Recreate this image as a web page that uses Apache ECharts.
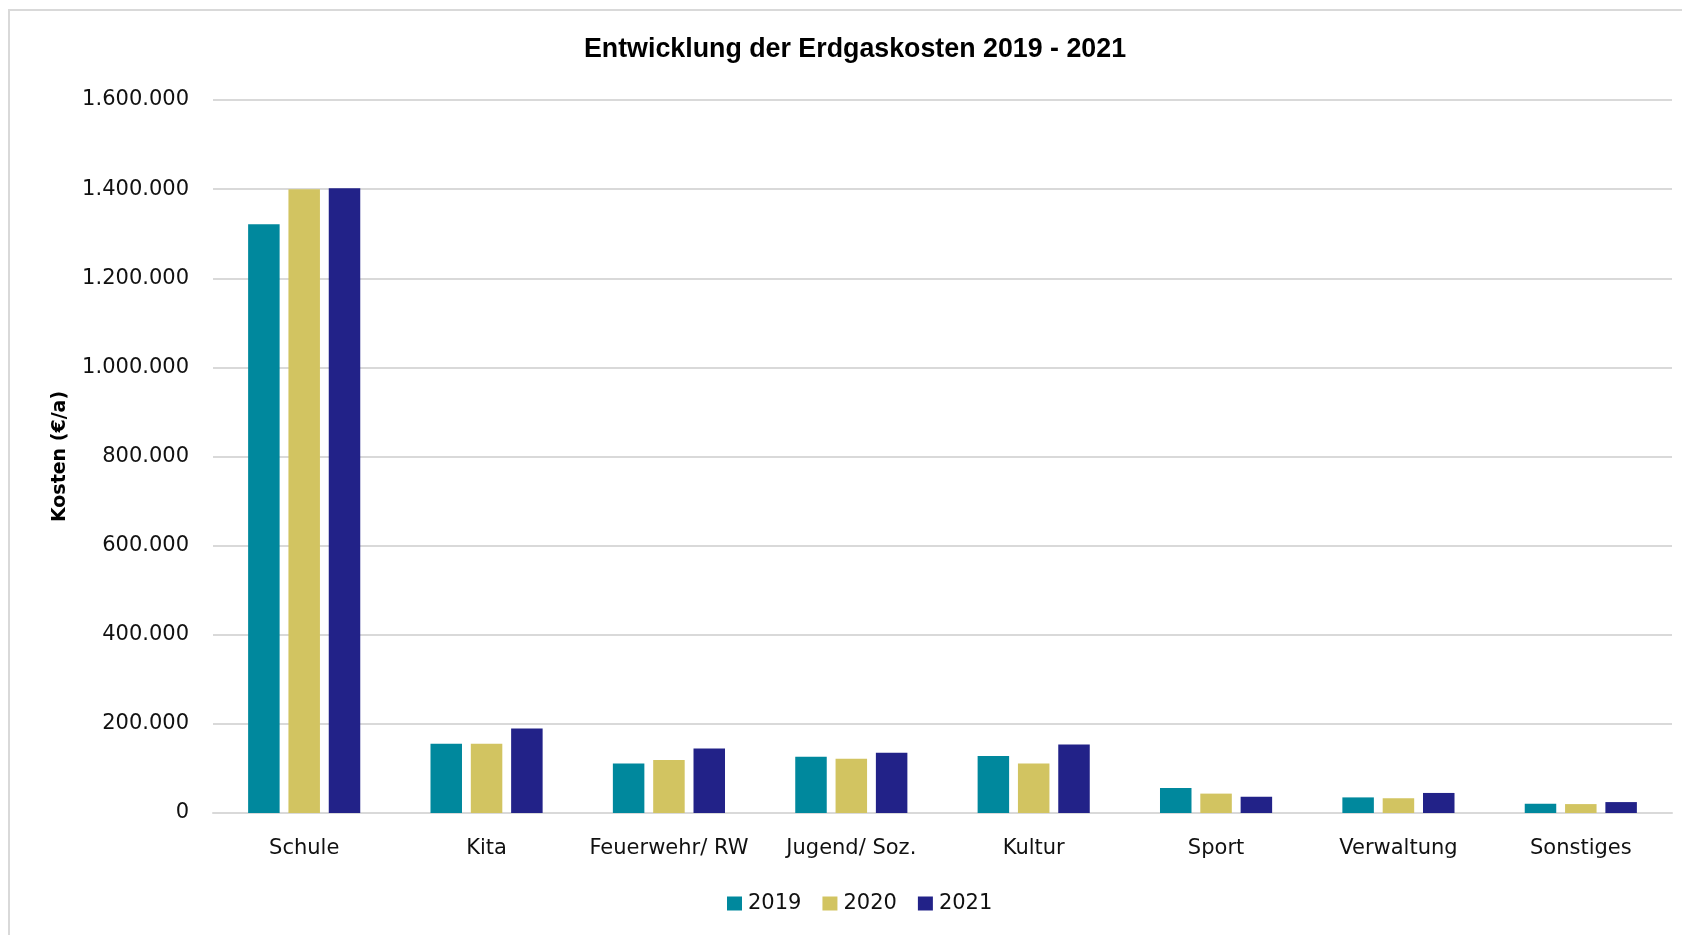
<!DOCTYPE html>
<html>
<head>
<meta charset="utf-8">
<script src="https://cdn.jsdelivr.net/npm/echarts@6/dist/echarts.min.js"></script>
<style>
  html, body { margin: 0; padding: 0; background: #ffffff; }
  #chart { width: 1682px; height: 935px; }
</style>
</head>
<body>
<div id="chart"></div>
<script>
// Natural gas costs per building category (EUR per year)
const categories = ['Schule', 'Kita', 'Feuerwehr/ RW', 'Jugend/ Soz.', 'Kultur', 'Sport', 'Verwaltung', 'Sonstiges'];
const kosten2019 = [1321000, 155500, 111000, 126500, 128000, 56000, 35000, 21000];
const kosten2020 = [1400000, 155500, 119000, 122000, 111000, 43500, 33000, 20000];
const kosten2021 = [1402000, 189500, 144500, 135000, 153500, 36500, 45000, 24500];
const seriesNames = ['2019', '2020', '2021'];
const yTicks = { min: 0, max: 1600000, interval: 200000 };

const colors = ['#00889d', '#d2c461', '#222288'];
const labelFont = 'DejaVu Sans';

// German thousands separator: 1600000 -> 1.600.000
function formatDe(v) {
  return String(Math.round(v)).replace(/\B(?=(\d{3})+(?!\d))/g, '.');
}

const chart = echarts.init(document.getElementById('chart'), null, { renderer: 'canvas' });

const seriesData = [kosten2019, kosten2020, kosten2021];

chart.setOption({
  animation: false,
  backgroundColor: '#ffffff',
  color: colors,
  graphic: [{
    type: 'rect',
    silent: true,
    z: -1,
    shape: { x: 9, y: 10, width: 1720, height: 1000 },
    style: { fill: 'none', stroke: '#d9d9d9', lineWidth: 2 }
  }],
  title: {
    text: 'Entwicklung der Erdgaskosten 2019 - 2021',
    left: 850,
    top: 31,
    textAlign: 'center',
    textStyle: {
      fontFamily: 'Liberation Sans',
      fontWeight: 'bold',
      fontSize: 26.8,
      color: '#000000'
    }
  },
  legend: {
    data: seriesNames,
    left: 722,
    top: 888,
    itemWidth: 15,
    itemHeight: 14,
    itemGap: 21,
    icon: 'rect',
    textStyle: {
      fontFamily: labelFont,
      fontSize: 21,
      color: '#111111',
      padding: [0, 0, 0, 1]
    }
  },
  grid: {
    left: 213,
    right: 10,
    top: 100,
    bottom: 122,
    containLabel: false
  },
  xAxis: {
    type: 'category',
    data: categories,
    axisTick: { show: false },
    axisLine: { show: true, lineStyle: { color: '#d9d9d9', width: 2 } },
    axisLabel: {
      interval: 0,
      margin: 25,
      fontFamily: labelFont,
      fontSize: 21,
      color: '#111111'
    }
  },
  yAxis: {
    type: 'value',
    min: yTicks.min,
    max: yTicks.max,
    interval: yTicks.interval,
    name: 'Kosten (€/a)',
    nameLocation: 'middle',
    nameGap: 143,
    nameRotate: 90,
    nameTextStyle: {
      fontFamily: labelFont,
      fontWeight: 'bold',
      fontSize: 19,
      color: '#000000'
    },
    axisLine: { show: false },
    axisTick: { show: false },
    splitLine: { lineStyle: { color: '#d9d9d9', width: 2 } },
    axisLabel: {
      margin: 24,
      fontFamily: labelFont,
      fontSize: 21,
      color: '#111111',
      padding: [3, 0, 0, 0],
      formatter: formatDe
    }
  },
  series: seriesNames.map((name, i) => ({
    name: name,
    type: 'bar',
    data: seriesData[i],
    barWidth: 31.5,
    barGap: '28%',
    itemStyle: { color: colors[i] }
  }))
});
</script>
</body>
</html>
